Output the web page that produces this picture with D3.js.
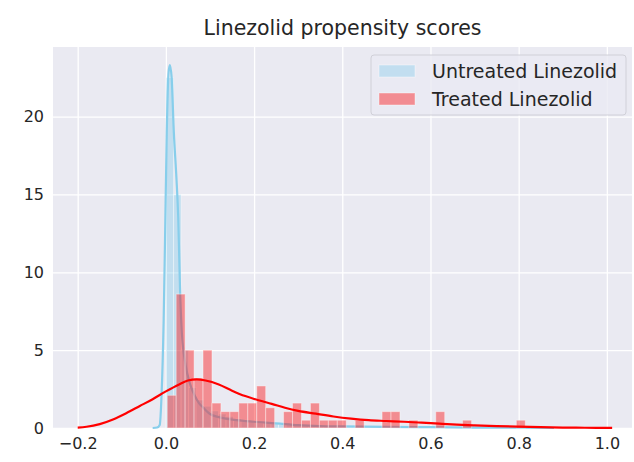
<!DOCTYPE html>
<html>
<head>
<meta charset="utf-8">
<script src="https://cdn.jsdelivr.net/npm/d3@7"></script>
<style>
  body { margin: 0; background: #fff; }
  text { font-family: "DejaVu Sans", sans-serif; fill: #262626; }
</style>
</head>
<body>
<svg id="chart" width="634" height="462"></svg>
<script>
// treated propensity scores: density histogram, 40 equal bins over treatedRange
var treatedRange = [0.003, 0.815];
var treatedDensity = [
  2.1, 8.6, 5.0, 3.2, 5.0, 1.6, 1.05, 1.05, 1.6, 1.6,
  2.7, 1.3, 0, 1.05, 1.6, 0.5, 1.6, 0.5, 0.5, 0.5,
  0, 0.5, 0, 0, 1.05, 1.05, 0, 0.5, 0, 0,
  1.05, 0, 0, 0.5, 0, 0, 0, 0, 0, 0.5
];

// untreated propensity scores: density histogram, 50 equal bins over untreatedRange
var untreatedRange = [0.0005, 0.85];
var untreatedDensity = [
  22.5, 15, 5, 2.6, 1.8, 1.4, 1.1, 0.9, 0.75, 0.6,
  0.5, 0.45, 0.4, 0.35, 0.3, 0.25, 0.22, 0.2, 0.15, 0.12,
  0.1, 0.08, 0.07, 0.06, 0.05, 0.05, 0.04, 0.04, 0.03, 0.03,
  0.03, 0.02, 0.02, 0.02, 0.02, 0.01, 0.01, 0.01, 0.01, 0.01,
  0.01, 0.01, 0.01, 0, 0, 0, 0, 0, 0, 0.01
];

// kde curves
var untreatedKdeX = [-0.03, -0.02, -0.014, -0.01, -0.005, -0.002, 0.002, 0.006, 0.009, 0.013,
  0.018, 0.024, 0.028, 0.032, 0.036, 0.045, 0.054, 0.065, 0.075, 0.085,
  0.1, 0.12, 0.136, 0.16, 0.2, 0.25, 0.3, 0.35, 0.4, 0.5, 0.6, 0.7, 0.8, 0.88];
var untreatedKdeY = [0, 0.03, 0.2, 2, 7, 12, 19, 22.8, 23.3, 22.5,
  19, 16, 13.5, 9, 6.2, 4, 2.9, 2.1, 1.6, 1.3,
  0.9, 0.7, 0.6, 0.5, 0.4, 0.3, 0.18, 0.12, 0.1, 0.07, 0.05, 0.03, 0.015, 0];

var treatedKdeX = [-0.2, -0.18, -0.15, -0.12, -0.09, -0.06, -0.03, 0, 0.03, 0.05,
  0.07, 0.09, 0.12, 0.15, 0.18, 0.21, 0.24, 0.27, 0.3, 0.34,
  0.38, 0.42, 0.46, 0.5, 0.54, 0.58, 0.62, 0.66, 0.7, 0.75,
  0.8, 0.85, 0.9, 0.95, 1.012];
var treatedKdeY = [0.03, 0.08, 0.25, 0.55, 0.95, 1.4, 1.85, 2.35, 2.8, 3.05,
  3.12, 3.05, 2.8, 2.4, 2.05, 1.78, 1.55, 1.3, 1.1, 0.92,
  0.74, 0.6, 0.5, 0.45, 0.4, 0.34, 0.28, 0.22, 0.17, 0.12,
  0.09, 0.06, 0.03, 0.015, 0.005];

var xTicks = [-0.2, 0.0, 0.2, 0.4, 0.6, 0.8, 1.0];
var yTicks = [0, 5, 10, 15, 20];
var seriesNames = ["Untreated Linezolid", "Treated Linezolid"];
var titleText = "Linezolid propensity scores";

var margin = {top: 47, right: 2, bottom: 34, left: 53},
  width = 634 - margin.left - margin.right,
  height = 462 - margin.top - margin.bottom;

var svg = d3.select("#chart");
var g = svg.append("g")
  .attr("transform", "translate(" + margin.left + "," + margin.top + ")");

var x = d3.scaleLinear().domain([-0.256, 1.057]).range([0, width]);
var y = d3.scaleLinear().domain([0, 24.47]).range([height, 0]);

g.append("rect")
  .attr("width", width)
  .attr("height", height)
  .attr("fill", "#EAEAF2");

// grid
g.append("g")
  .attr("class", "grid")
  .attr("transform", "translate(0," + height + ")")
  .call(d3.axisBottom(x).tickValues(xTicks).tickSize(-height).tickFormat(""))
  .call(function(s) { s.select(".domain").remove(); })
  .selectAll("line").attr("stroke", "#fff").attr("stroke-width", 1.3);

g.append("g")
  .attr("class", "grid")
  .call(d3.axisLeft(y).tickValues(yTicks).tickSize(-width).tickFormat(""))
  .call(function(s) { s.select(".domain").remove(); })
  .selectAll("line").attr("stroke", "#fff").attr("stroke-width", 1.3);

// tick labels
var xAxis = g.append("g")
  .attr("transform", "translate(0," + height + ")")
  .call(d3.axisBottom(x).tickValues(xTicks).tickSize(0).tickPadding(10)
    .tickFormat(function(d) { return d3.format(".1f")(d).replace("-", "\u2212"); }));
xAxis.select(".domain").remove();
xAxis.selectAll("text").style("font-size", "16px").attr("fill", "#262626");

var yAxis = g.append("g")
  .call(d3.axisLeft(y).tickValues(yTicks).tickSize(0).tickPadding(9));
yAxis.select(".domain").remove();
yAxis.selectAll("text").style("font-size", "16px").attr("fill", "#262626");

function bins(range, values) {
  var w = (range[1] - range[0]) / values.length;
  return values.map(function(v, i) {
    return {x0: range[0] + i * w, x1: range[0] + (i + 1) * w, v: v};
  });
}

function drawHist(data, color) {
  g.append("g")
    .selectAll("rect")
    .data(data.filter(function(d) { return d.v > 0; }))
    .enter()
    .append("rect")
    .attr("x", function(d) { return x(d.x0); })
    .attr("y", function(d) { return y(d.v); })
    .attr("width", function(d) { return x(d.x1) - x(d.x0); })
    .attr("height", function(d) { return y(0) - y(d.v); })
    .attr("fill", color)
    .attr("fill-opacity", 0.4)
    .attr("stroke", "#fff")
    .attr("stroke-opacity", 0.4)
    .attr("stroke-width", 1);
}

var line = d3.line()
  .x(function(d) { return x(d[0]); })
  .y(function(d) { return y(d[1]); })
  .curve(d3.curveMonotoneX);

function drawKde(xs, ys, color) {
  g.append("path")
    .datum(d3.zip(xs, ys))
    .attr("d", line)
    .attr("fill", "none")
    .attr("stroke", color)
    .attr("stroke-width", 2.2);
}

drawHist(bins(untreatedRange, untreatedDensity), "skyblue");
drawKde(untreatedKdeX, untreatedKdeY, "skyblue");
drawHist(bins(treatedRange, treatedDensity), "red");
drawKde(treatedKdeX, treatedKdeY, "red");

// title
svg.append("text")
  .attr("x", margin.left + width / 2)
  .attr("y", 35)
  .attr("text-anchor", "middle")
  .style("font-size", "20.5px")
  .text(titleText);

// legend
var legend = g.append("g").attr("transform", "translate(" + (width - 261) + ",8)");
legend.append("rect")
  .attr("width", 255)
  .attr("height", 60)
  .attr("rx", 3)
  .attr("fill", "#EAEAF2")
  .attr("fill-opacity", 0.8)
  .attr("stroke", "#d0d0d8");

var legendColors = ["skyblue", "red"];
seriesNames.forEach(function(name, i) {
  legend.append("rect")
    .attr("x", 8)
    .attr("y", 10 + i * 28)
    .attr("width", 36)
    .attr("height", 12)
    .attr("fill", legendColors[i])
    .attr("fill-opacity", 0.4)
    .attr("stroke", "#fff")
    .attr("stroke-opacity", 0.4);
  legend.append("text")
    .attr("x", 61)
    .attr("y", 16 + i * 28)
    .attr("dy", "0.35em")
    .style("font-size", "19px")
    .text(name);
});
</script>
</body>
</html>
